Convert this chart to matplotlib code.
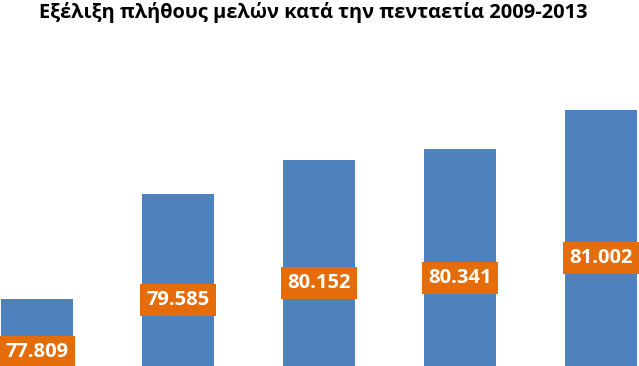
import matplotlib.pyplot as plt

# Members per year, 2009-2013
years = ['2009', '2010', '2011', '2012', '2013']
members = [77809, 79585, 80152, 80341, 81002]
labels = ['77.809', '79.585', '80.152', '80.341', '81.002']

plt.rcParams['font.family'] = ['Open Sans', 'DejaVu Sans']

fig = plt.figure(figsize=(6.39, 3.66), dpi=100)
# axes run below the bottom edge, like the cropped original
ax = fig.add_axes([0, -40 / 366, 1, 1 - 51 / 366 + 40 / 366])

x = range(len(years))
bars = ax.bar(x, members, width=0.51, color='#4F81BD', bottom=0)
ax.set_ylim(76000, 82000)
ax.set_xlim(-37 / 141, 602 / 141)

for xi, val, lab in zip(x, members, labels):
    ax.text(xi, (val + 76000) / 2, lab, ha='center', va='center',
            color='white', fontsize=14.5, fontweight='bold',
            bbox=dict(boxstyle='square,pad=0.3', fc='#E46C0A', ec='none'))

ax.axis('off')

fig.text(0.490, 1 - 18 / 366, 'Εξέλιξη πλήθους μελών κατά την πενταετία 2009-2013',
         ha='center', va='baseline', fontsize=14.4, fontweight='bold', color='black')

fig.savefig('out.png', dpi=100)
